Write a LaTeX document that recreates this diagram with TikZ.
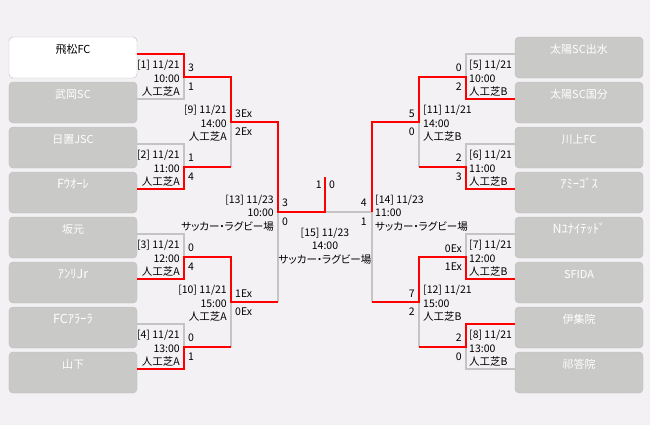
\documentclass[tikz,border=0pt]{standalone}
\usepackage{fontspec}
\setmainfont{Noto Sans CJK JP}[RawFeature=+palt]
\newfontfamily\kanafont{Noto Sans CJK JP}
\definecolor{bg}{HTML}{F3F1F4}
\definecolor{boxfill}{HTML}{C9CAC7}
\definecolor{boxline}{HTML}{BDBDBD}
\definecolor{linegray}{HTML}{C4C4C4}
\begin{document}
\begin{tikzpicture}[x=1bp, y=-1bp,
	every node/.style={inner sep=0pt, font=\fontsize{10.5bp}{13.5bp}\selectfont},
	team/.style={draw=boxline, fill=boxfill, rounded corners=4bp, minimum width=128bp, minimum height=41bp, text=white, text height=8bp, text depth=17bp, font=\fontsize{11bp}{13.5bp}\kanafont},
	kana/.style={team, font=\fontsize{12.5bp}{13.5bp}\kanafont},
	top/.style={team, fill=white, text=black},
	infol/.style={anchor=east, align=right},
	infor/.style={anchor=west, align=left},
	win/.style={draw=red, line width=2bp},
	lose/.style={draw=linegray, line width=2bp}]
	\fill[bg] (0,0) rectangle (650,425);
	\useasboundingbox (0,0) rectangle (650,425);

	% teams, left
	\node[top]  (t1) at (73,57.5)  {飛松FC};
	\node[team] (t2) at (73,102.5) {武岡SC};
	\node[team] (t3) at (73,147.5) {日置JSC};
	\node[kana] (t4) at (73,192.5) {Fｳｵｰﾚ};
	\node[team] (t5) at (73,237.5) {坂元};
	\node[kana] (t6) at (73,282.5) {ｱﾝﾘJr};
	\node[kana] (t7) at (73,327.5) {FCｱﾗｰﾗ};
	\node[team] (t8) at (73,372.5) {山下};
	% teams, right
	\node[team] (t9)  at (579,57.5)  {太陽SC出水};
	\node[team] (t10) at (579,102.5) {太陽SC国分};
	\node[team] (t11) at (579,147.5) {川上FC};
	\node[kana] (t12) at (579,192.5) {ｱﾐｰｺﾞｽ};
	\node[kana] (t13) at (579,237.5) {Nﾕﾅｲﾃｯﾄﾞ};
	\node[team] (t14) at (579,282.5) {SFIDA};
	\node[team] (t15) at (579,327.5) {伊集院};
	\node[team] (t16) at (579,372.5) {祁答院};

	% where the lines leave the boxes
	\coordinate (a1) at (137,54);  \coordinate (a9)  at (515,54);
	\coordinate (a2) at (137,99);  \coordinate (a10) at (515,99);
	\coordinate (a3) at (137,144); \coordinate (a11) at (515,144);
	\coordinate (a4) at (137,189); \coordinate (a12) at (515,189);
	\coordinate (a5) at (137,234); \coordinate (a13) at (515,234);
	\coordinate (a6) at (137,279); \coordinate (a14) at (515,279);
	\coordinate (a7) at (137,324); \coordinate (a15) at (515,324);
	\coordinate (a8) at (137,369); \coordinate (a16) at (515,369);

	% matches
	\coordinate (m1) at (184,76.5);  \coordinate (m5) at (466,76.5);
	\coordinate (m2) at (184,166.5); \coordinate (m6) at (466,166.5);
	\coordinate (m3) at (184,256.5); \coordinate (m7) at (466,256.5);
	\coordinate (m4) at (184,346.5); \coordinate (m8) at (466,346.5);
	\coordinate (m9)  at (231,121.5); \coordinate (m11) at (419,121.5);
	\coordinate (m10) at (231,301.5); \coordinate (m12) at (419,301.5);
	\coordinate (m13) at (278,211.5); \coordinate (m14) at (372,211.5);
	\coordinate (fin) at (325,211.5);
	\coordinate (champ) at (325,177);

	% losing lines
	\draw[lose] (a2) -| (m1);
	\draw[lose] (a3) -| (m2);
	\draw[lose] (a5) -| (m3);
	\draw[lose] (a7) -| (m4);
	\draw[lose] (m2 -| m9) -- (m9);
	\draw[lose] (m4 -| m10) -- (m10);
	\draw[lose] (m10 -| m13) -- (m13);
	\draw[lose] (a9) -| (m5);
	\draw[lose] (a11) -| (m6);
	\draw[lose] (a13) -| (m7);
	\draw[lose] (a16) -| (m8);
	\draw[lose] (m6 -| m11) -- (m11);
	\draw[lose] (m8 -| m12) -- (m12);
	\draw[lose] (m12 -| m14) -- (m14);
	\draw[lose] (m14) -- (fin);

	% winning lines
	\draw[win] (a1) -| (m1) -| (m9) -| (m13) -- (fin) -- (champ);
	\draw[win] (a4) -| (m2) -- (m2 -| m9);
	\draw[win] (a6) -| (m3) -| (m10) -- (m10 -| m13);
	\draw[win] (a8) -| (m4) -- (m4 -| m10);
	\draw[win] (a10) -| (m5) -| (m11) -| (m14);
	\draw[win] (a12) -| (m6) -- (m6 -| m11);
	\draw[win] (a14) -| (m7) -| (m12) -- (m12 -| m14);
	\draw[win] (a15) -| (m8) -- (m8 -| m12);

	% match info
	\node[infol] (l1)  at (180,78.5)  {[1] 11/21\\10:00\\人工芝A};
	\node[infol] (l2)  at (180,168.5) {[2] 11/21\\11:00\\人工芝A};
	\node[infol] (l3)  at (180,258.5) {[3] 11/21\\12:00\\人工芝A};
	\node[infol] (l4)  at (180,348.5) {[4] 11/21\\13:00\\人工芝A};
	\node[infol] (l9)  at (227,123.5) {[9] 11/21\\14:00\\人工芝A};
	\node[infol] (l10) at (227,303.5) {[10] 11/21\\15:00\\人工芝A};
	\node[infol] (l13) at (274,213)   {[13] 11/23\\10:00\\サッカー・ラグビー場};
	\node[infor] (l5)  at (469,78.5)  {[5] 11/21\\10:00\\人工芝B};
	\node[infor] (l6)  at (469,168.5) {[6] 11/21\\11:00\\人工芝B};
	\node[infor] (l7)  at (469,258.5) {[7] 11/21\\12:00\\人工芝B};
	\node[infor] (l8)  at (469,348.5) {[8] 11/21\\13:00\\人工芝B};
	\node[infor] (l11) at (423,123.5) {[11] 11/21\\14:00\\人工芝B};
	\node[infor] (l12) at (423,303.5) {[12] 11/21\\15:00\\人工芝B};
	\node[infor] (l14) at (375,213)   {[14] 11/23\\11:00\\サッカー・ラグビー場};
	\node[align=center] (l15) at (325,246) {[15] 11/23\\14:00\\サッカー・ラグビー場};

	% scores
	\node[anchor=west] (s1a)  at (188,68)    {3};
	\node[anchor=west] (s1b)  at (188,87)    {1};
	\node[anchor=west] (s2a)  at (188,158)   {1};
	\node[anchor=west] (s2b)  at (188,177)   {4};
	\node[anchor=west] (s3a)  at (188,248)   {0};
	\node[anchor=west] (s3b)  at (188,267)   {4};
	\node[anchor=west] (s4a)  at (188,338)   {0};
	\node[anchor=west] (s4b)  at (188,357)   {1};
	\node[anchor=west] (s9a)  at (235,113.5) {3Ex};
	\node[anchor=west] (s9b)  at (235,132)   {2Ex};
	\node[anchor=west] (s10a) at (235,293.5) {1Ex};
	\node[anchor=west] (s10b) at (235,312)   {0Ex};
	\node[anchor=west] (s13a) at (282,203)   {3};
	\node[anchor=west] (s13b) at (282,222)   {0};
	\node[anchor=east] (s5a)  at (462,68)    {0};
	\node[anchor=east] (s5b)  at (462,87)    {2};
	\node[anchor=east] (s6a)  at (462,158)   {2};
	\node[anchor=east] (s6b)  at (462,177)   {3};
	\node[anchor=east] (s7a)  at (462,248.5) {0Ex};
	\node[anchor=east] (s7b)  at (462,267)   {1Ex};
	\node[anchor=east] (s8a)  at (462,338)   {2};
	\node[anchor=east] (s8b)  at (462,357)   {0};
	\node[anchor=east] (s11a) at (415,113.5) {5};
	\node[anchor=east] (s11b) at (415,132)   {0};
	\node[anchor=east] (s12a) at (415,293.5) {7};
	\node[anchor=east] (s12b) at (415,312)   {2};
	\node[anchor=east] (s14a) at (367,203)   {4};
	\node[anchor=east] (s14b) at (367,222)   {1};
	\node[anchor=east] (s15a) at (322,185)   {1};
	\node[anchor=west] (s15b) at (329,185)   {0};
\end{tikzpicture}
\end{document}
